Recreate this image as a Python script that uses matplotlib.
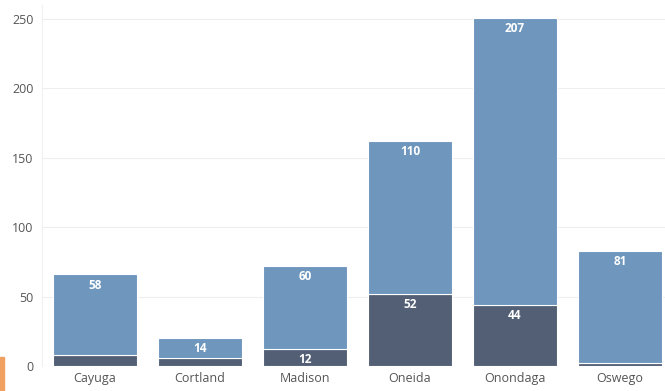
import matplotlib.pyplot as plt
from matplotlib.patches import Rectangle

counties = ["Cayuga", "Cortland", "Madison", "Oneida", "Onondaga", "Oswego"]
lower = [8, 6, 12, 52, 44, 2]
upper = [58, 14, 60, 110, 207, 81]
yticks = [0, 50, 100, 150, 200, 250]

plt.rcParams['font.family'] = ['Open Sans', 'DejaVu Sans']

fig = plt.figure(figsize=(6.65, 3.91), dpi=100)
ax = fig.add_axes([0.063, 0.064, 0.937, 0.923])

x = range(len(counties))
dark = ax.bar(x, lower, width=0.8, color='#525f74', edgecolor='white', linewidth=0.8, zorder=2)
light = ax.bar(x, upper, width=0.8, bottom=lower, color='#6f96bd', edgecolor='white', linewidth=0.8, zorder=2)

for i in x:
    top = lower[i] + upper[i]
    ax.annotate(str(upper[i]), (i, top), xytext=(0, -3), textcoords='offset points',
                ha='center', va='top', color='white', fontsize=8.5, fontweight='bold')
    if lower[i] >= 10:
        ax.annotate(str(lower[i]), (i, lower[i]), xytext=(0, -3), textcoords='offset points',
                    ha='center', va='top', color='white', fontsize=8.5, fontweight='bold')

ax.set_xlim(-0.505, 5.43)
ax.set_ylim(0, 260)
ax.set_yticks(yticks)
ax.set_xticks(list(x))
ax.set_xticklabels(counties)
ax.tick_params(length=0, colors='#555555', labelsize=9)
ax.tick_params(axis='y', pad=6)
ax.tick_params(axis='x', pad=4)
ax.grid(axis='y', color='#eeeeee', linewidth=0.8, zorder=0)
for s in ['top', 'right', 'bottom']:
    ax.spines[s].set_visible(False)
ax.spines['left'].set_color('#f0f0f0')

fig.patches.append(Rectangle((0, 0), 4 / 665, 34 / 391, transform=fig.transFigure,
                             color='#f0a060', zorder=0))

fig.savefig("out.png")
